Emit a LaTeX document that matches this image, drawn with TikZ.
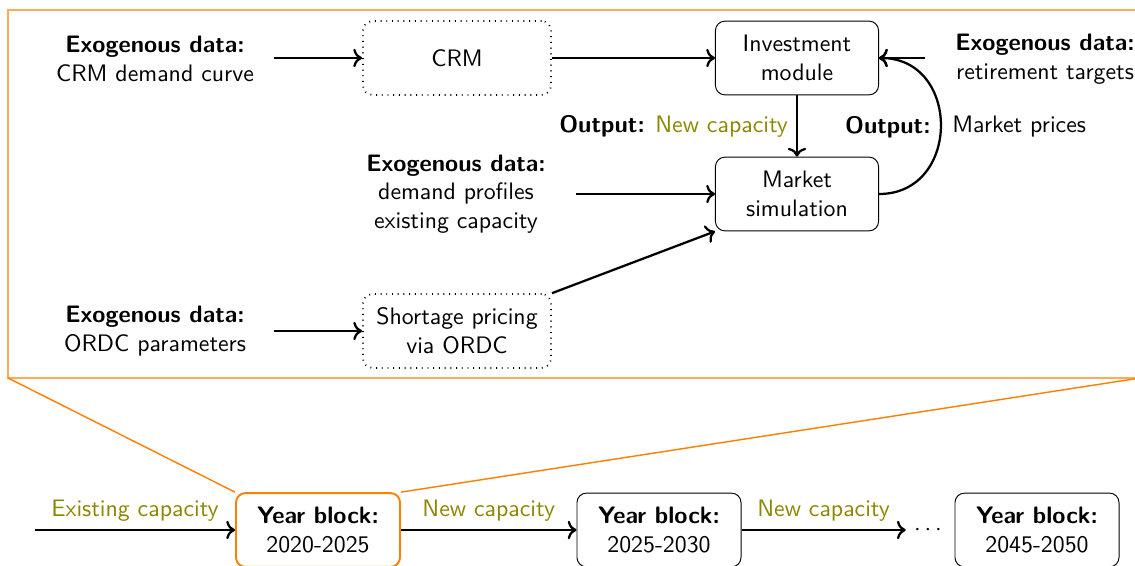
\documentclass[tikz,border=0pt]{standalone}
\usetikzlibrary{arrows.meta}
\begin{document}
\begin{tikzpicture}[x=0.42pt,y=-0.42pt,font=\sffamily,
  every node/.style={inner sep=3.33pt},
  box/.style={draw,rounded corners=4pt,thin,align=center,minimum height=31pt},
  dotbox/.style={box,dotted,line width=0.75pt,minimum width=79pt},
  modbox/.style={box,minimum width=68.5pt},
  yearbox/.style={box,minimum width=68.9pt},
  exo/.style={align=center},
  flow/.style={->,line width=0.95pt},
  capcol/.style={text=olive},
  frame/.style={draw=orange!65,line width=0.45pt},
  zoomline/.style={draw=orange,semithick}]
\useasboundingbox (0,0) rectangle (1135,566);
% frame
\path[frame] (8,10) rectangle (1140,378);
\coordinate (fsw) at (8,378);
\coordinate (fse) at (1140,378);
% upper part
\node[exo] (e1) at (155,59) {\textbf{Exogenous data:}\\CRM demand curve};
\node[dotbox] (crm) at (457,58) {CRM};
\node[modbox] (inv) at (797,58) {Investment\\module};
\node[modbox] (mkt) at (797,194) {Market\\simulation};
\node[exo] (e2) at (456,194) {\textbf{Exogenous data:}\\demand profiles\\existing capacity};
\node[exo] (e3) at (155,331) {\textbf{Exogenous data:}\\ORDC parameters};
\node[dotbox] (ordc) at (457,331) {Shortage pricing\\via ORDC};
\node[exo] (e4) at (1045,59) {\textbf{Exogenous data:}\\retirement targets};
\coordinate (e1o) at (274,58);
\coordinate (e2o) at (576,194);
\coordinate (e3o) at (274,331);
\coordinate (e4o) at (925,58);
\draw[flow] (e1o) -- (crm);
\draw[flow] (crm) -- (inv);
\draw[flow] (e2o) -- (mkt);
\draw[flow] (e3o) -- (ordc);
\draw[flow] (ordc.north east) -- (mkt.south west);
\draw[flow] (inv) -- (mkt) node[midway,left=0pt] {\textbf{Output:} \textcolor{olive}{New capacity}};
\draw[flow] (mkt.east) to[out=0,in=0,looseness=1.55] (inv.east);
\draw[flow] (e4o) -- (inv.east);
\node[anchor=east] (o2) at (939,127) {\textbf{Output:}};
\node[anchor=west] (mp) at (944,127) {Market prices};
% lower part
\node[yearbox,draw=orange,thick] (y1) at (318,530) {\textbf{Year block:}\\2020-2025};
\node[yearbox] (y2) at (659,530) {\textbf{Year block:}\\2025-2030};
\node[yearbox] (y3) at (1037,530) {\textbf{Year block:}\\2045-2050};
\node (dots) at (928,530) {$\cdots$};
\coordinate (start) at (35,530);
\draw[flow] (start) -- (y1) node[midway,above,capcol] {Existing capacity};
\draw[flow] (y1) -- (y2) node[midway,above,capcol] {New capacity};
\draw[flow] (y2) -- (dots) node[midway,above,capcol] {New capacity};
\draw[zoomline] (fsw) -- (y1.north west);
\draw[zoomline] (fse) -- (y1.north east);
\end{tikzpicture}
\end{document}
